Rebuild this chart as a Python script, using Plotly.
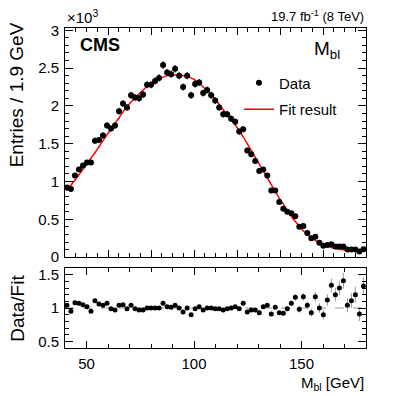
import numpy as np
import plotly.graph_objects as go

# bin centres of M_bl [GeV]
mbl = [40.9, 42.76, 44.63, 46.49, 48.35, 50.22, 52.08, 53.94, 55.81, 57.67,
       59.54, 61.40, 63.26, 65.13, 66.99, 68.85, 70.72, 72.58, 74.44, 76.31,
       78.17, 80.03, 81.90, 83.76, 85.62, 87.49, 89.35, 91.21, 93.08, 94.94,
       96.81, 98.67, 100.53, 102.40, 104.26, 106.12, 107.99, 109.85, 111.71, 113.58,
       115.44, 117.30, 119.17, 121.03, 122.89, 124.76, 126.62, 128.48, 130.35, 132.21,
       134.08, 135.94, 137.80, 139.67, 141.53, 143.39, 145.26, 147.12, 148.98, 150.85,
       152.71, 154.57, 156.44, 158.30, 160.16, 162.03, 163.89, 165.75, 167.62, 169.48,
       171.35, 173.21, 175.07, 176.94, 178.80]

# entries (x10^3)
data = [0.92, 0.90, 1.08, 1.16, 1.21, 1.25, 1.25, 1.54, 1.55, 1.61,
        1.74, 1.70, 1.74, 1.93, 2.03, 1.98, 2.14, 2.11, 2.10, 2.15,
        2.28, 2.28, 2.33, 2.37, 2.54, 2.44, 2.42, 2.49, 2.40, 2.25,
        2.40, 2.14, 2.29, 2.31, 2.17, 2.21, 2.14, 2.07, 1.98, 1.89,
        1.89, 1.83, 1.79, 1.66, 1.69, 1.41, 1.36, 1.27, 1.14, 1.16,
        1.08, 0.88, 0.88, 0.73, 0.64, 0.60, 0.58, 0.54, 0.40, 0.41,
        0.32, 0.25, 0.27, 0.19, 0.15, 0.16, 0.17, 0.14, 0.14, 0.14,
        0.10, 0.10, 0.10, 0.075, 0.105]

fit = [0.88, 0.95, 1.02, 1.09, 1.16, 1.23, 1.31, 1.38, 1.46, 1.54,
       1.62, 1.69, 1.77, 1.84, 1.92, 1.99, 2.05, 2.11, 2.16, 2.21,
       2.26, 2.30, 2.33, 2.36, 2.38, 2.40, 2.41, 2.41, 2.41, 2.40,
       2.39, 2.37, 2.34, 2.30, 2.25, 2.20, 2.15, 2.09, 2.02, 1.95,
       1.89, 1.82, 1.75, 1.67, 1.59, 1.50, 1.41, 1.32, 1.23, 1.14,
       1.05, 0.96, 0.87, 0.78, 0.70, 0.62, 0.54, 0.47, 0.41, 0.35,
       0.30, 0.26, 0.22, 0.19, 0.165, 0.145, 0.128, 0.115, 0.105, 0.098,
       0.092, 0.088, 0.084, 0.081, 0.079]

ratio = [1.04, 0.95, 1.08, 1.07, 1.05, 1.02, 0.95, 1.11, 1.06, 1.04,
         1.07, 0.99, 0.97, 1.04, 1.05, 0.99, 1.04, 0.99, 0.97, 0.97,
         1.00, 1.00, 1.00, 1.00, 1.07, 1.02, 1.01, 1.04, 1.00, 0.94,
         1.00, 0.90, 0.99, 1.02, 0.97, 1.00, 1.00, 0.99, 0.99, 0.97,
         0.99, 1.00, 1.02, 0.99, 1.07, 0.94, 0.97, 0.97, 0.93, 1.02,
         1.04, 0.91, 1.01, 0.93, 0.92, 0.99, 1.07, 1.16, 0.98, 1.17,
         1.04, 0.93, 1.17, 1.00, 0.90, 1.12, 1.34, 1.20, 1.30, 1.41,
         1.04, 1.11, 1.20, 0.91, 1.33]

# poisson errors
counts = np.array(data) * 1000
data_err = np.sqrt(counts) / 1000
ratio_err = np.array(ratio) / np.sqrt(counts)

font = 'Liberation Sans'

fig = go.Figure()

fig.add_trace(go.Scatter(
    x=mbl, y=fit, mode='lines', name='Fit result',
    line=dict(color='#ff0000', width=1.5, shape='spline'),
    xaxis='x', yaxis='y', legendgroup='b', legendrank=2
))
fig.add_trace(go.Scatter(
    x=mbl, y=data, mode='markers', name='Data',
    marker=dict(color='black', size=6),
    error_y=dict(type='data', array=data_err, color='black', thickness=1, width=0),
    xaxis='x', yaxis='y', legendgroup='a', legendrank=1
))
fig.add_trace(go.Scatter(
    x=[40, 180], y=[1, 1], mode='lines', showlegend=False,
    line=dict(color='#999999', width=1, dash='dash'),
    xaxis='x2', yaxis='y2'
))
fig.add_trace(go.Scatter(
    x=mbl, y=ratio, mode='markers', showlegend=False,
    marker=dict(color='black', size=5),
    error_y=dict(type='data', array=ratio_err, color='#999999', thickness=1, width=0),
    xaxis='x2', yaxis='y2'
))

axis_common = dict(
    showline=True, linecolor='black', linewidth=1, mirror='ticks',
    showgrid=False, zeroline=False, ticks='inside', tickcolor='black',
    tickfont=dict(family=font, size=15, color='black'),
)

# page body keeps an 8px margin, so the figure is 8px smaller than the window
fig.update_layout(
    width=399, height=388,
    margin=dict(l=57, r=41, t=20, b=48),
    paper_bgcolor='white', plot_bgcolor='white',
    font=dict(family=font, size=15, color='black'),
    xaxis=dict(axis_common, domain=[0, 1], anchor='y', range=[40, 180],
               tick0=0, dtick=20, ticklen=7, showticklabels=False,
               minor=dict(dtick=5, ticks='inside', ticklen=4, tickcolor='black')),
    yaxis=dict(axis_common, domain=[0.284, 1], anchor='x', range=[0, 3.03],
               tick0=0, dtick=0.5, ticklen=8, ticklabelstandoff=2,
               minor=dict(dtick=0.1, ticks='inside', ticklen=4, tickcolor='black')),
    xaxis2=dict(axis_common, domain=[0, 1], anchor='y2', range=[40, 180],
                tick0=0, dtick=50, ticklen=7, ticklabelstandoff=2,
                minor=dict(dtick=10, ticks='inside', ticklen=4, tickcolor='black')),
    yaxis2=dict(axis_common, domain=[0, 0.25], anchor='x2', range=[0.4, 1.6],
                tick0=0, dtick=0.5, ticklen=8, ticklabelstandoff=2,
                minor=dict(dtick=0.1, ticks='inside', ticklen=4, tickcolor='black')),
    legend=dict(x=0.578, y=0.88, xanchor='left', yanchor='top',
                font=dict(family=font, size=15, color='black'),
                bgcolor='rgba(0,0,0,0)', tracegroupgap=4),
    showlegend=True,
)

annotations = [
    dict(text='Entries / 1.9 GeV', x=-0.16, y=1.025, xanchor='center', yanchor='top',
         textangle=-90, size=19),
    dict(text='Data/Fit', x=-0.16, y=0.125, xanchor='center', yanchor='middle',
         textangle=-90, size=19),
    dict(text='M<sub>bl</sub> [GeV]', x=1, y=-0.112, xanchor='right', yanchor='middle',
         size=15),
    dict(text='×10<sup>3</sup>', x=0, y=1.0, xanchor='left', yanchor='bottom',
         size=15),
    dict(text='19.7 fb<sup>-1</sup> (8 TeV)', x=1, y=1.0, xanchor='right', yanchor='bottom',
         yshift=2, size=13),
    dict(text='<b>CMS</b>', x=0.043, y=0.947, xanchor='left', yanchor='middle',
         size=18),
    dict(text='M<sub>bl</sub>', x=0.92, y=0.931, xanchor='right', yanchor='middle',
         size=19),
]
for a in annotations:
    size = a.pop('size')
    a.update(xref='paper', yref='paper', showarrow=False,
             font=dict(family=font, size=size, color='black'))
fig.update_layout(annotations=annotations)

fig.write_html("out.html")
